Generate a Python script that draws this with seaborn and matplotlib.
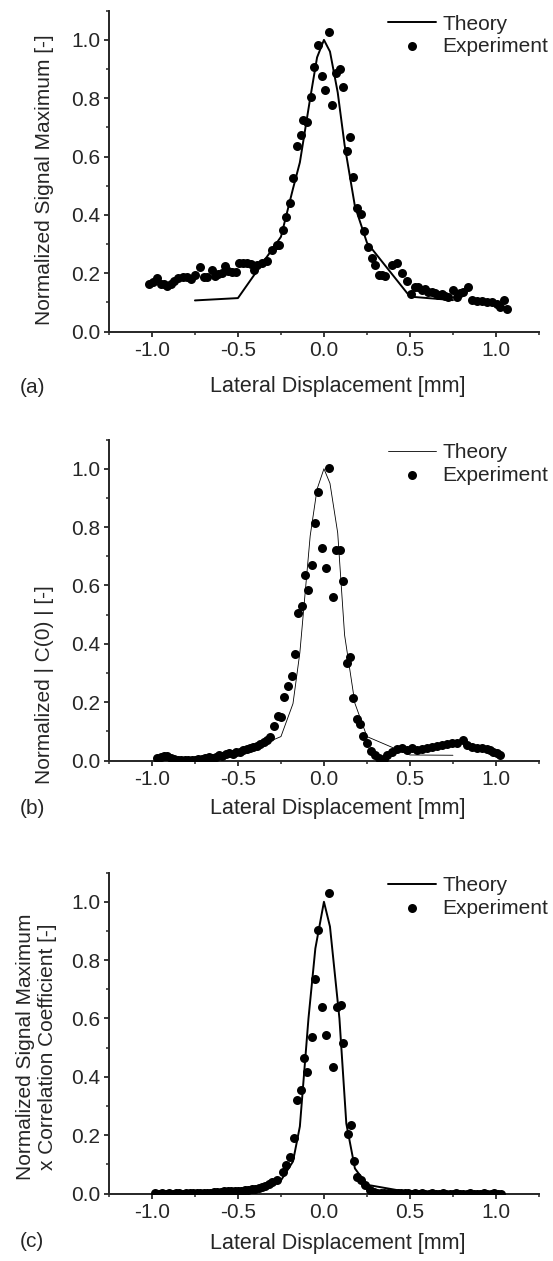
import pandas as pd
import seaborn as sns
import matplotlib.pyplot as plt
import matplotlib.ticker as ticker

# ---- panel (a): normalized signal maximum
a_exp_x = [-1.016, -0.992, -0.969, -0.950, -0.930, -0.911, -0.892, -0.872, -0.847, -0.822,
           -0.795, -0.775, -0.750, -0.721, -0.698, -0.678, -0.653, -0.634, -0.614, -0.595,
           -0.576, -0.556, -0.537, -0.512, -0.492, -0.469, -0.446, -0.426, -0.407, -0.388,
           -0.362, -0.333, -0.304, -0.275, -0.260, -0.240, -0.223, -0.198, -0.178, -0.159,
           -0.136, -0.120, -0.101, -0.078, -0.058, -0.033, -0.014, 0.006, 0.031, 0.048,
           0.070, 0.093, 0.112, 0.132, 0.151, 0.171, 0.194, 0.213, 0.234, 0.258,
           0.277, 0.297, 0.320, 0.335, 0.355, 0.394, 0.423, 0.452, 0.481, 0.504,
           0.529, 0.549, 0.568, 0.587, 0.607, 0.626, 0.645, 0.665, 0.684, 0.704,
           0.723, 0.752, 0.771, 0.791, 0.810, 0.839, 0.859, 0.888, 0.917, 0.946,
           0.975, 1.004, 1.023, 1.047, 1.066]
a_exp_y = [0.163, 0.171, 0.183, 0.165, 0.163, 0.156, 0.165, 0.175, 0.183, 0.186,
           0.186, 0.179, 0.194, 0.220, 0.188, 0.186, 0.213, 0.190, 0.197, 0.201,
           0.226, 0.209, 0.205, 0.205, 0.236, 0.236, 0.234, 0.232, 0.213, 0.228,
           0.236, 0.243, 0.280, 0.297, 0.297, 0.348, 0.392, 0.440, 0.525, 0.637,
           0.674, 0.725, 0.717, 0.803, 0.906, 0.983, 0.876, 0.828, 1.028, 0.777,
           0.888, 0.899, 0.840, 0.619, 0.668, 0.531, 0.423, 0.403, 0.346, 0.291,
           0.251, 0.228, 0.194, 0.194, 0.190, 0.228, 0.234, 0.200, 0.172, 0.129,
           0.152, 0.152, 0.143, 0.145, 0.137, 0.137, 0.131, 0.125, 0.129, 0.122,
           0.120, 0.143, 0.120, 0.131, 0.137, 0.152, 0.108, 0.106, 0.106, 0.103,
           0.103, 0.095, 0.085, 0.108, 0.076]
a_theo_x = [-0.75, -0.5, -0.25, -0.18, -0.14, -0.08, -0.04, 0.0, 0.035, 0.08, 0.12, 0.18, 0.25, 0.5, 0.75]
a_theo_y = [0.107, 0.115, 0.325, 0.49, 0.58, 0.80, 0.94, 1.0, 0.96, 0.82, 0.64, 0.43, 0.305, 0.12, 0.108]

# ---- panel (b): normalized |C(0)|
b_exp_x = [-0.97, -0.95, -0.93, -0.91, -0.89, -0.87, -0.85, -0.83, -0.81, -0.79,
           -0.77, -0.75, -0.73, -0.71, -0.69, -0.67, -0.65, -0.63, -0.61, -0.59,
           -0.57, -0.55, -0.53, -0.51, -0.49, -0.47, -0.45, -0.43, -0.41, -0.39,
           -0.37, -0.35, -0.33, -0.314, -0.291, -0.269, -0.250, -0.231, -0.209, -0.188,
           -0.169, -0.149, -0.130, -0.110, -0.091, -0.072, -0.052, -0.033, -0.010, 0.010,
           0.031, 0.050, 0.070, 0.093, 0.112, 0.132, 0.151, 0.171, 0.190, 0.209,
           0.229, 0.248, 0.271, 0.297, 0.322, 0.349, 0.368, 0.393, 0.422, 0.452,
           0.481, 0.510, 0.539, 0.568, 0.597, 0.626, 0.655, 0.684, 0.713, 0.742,
           0.775, 0.806, 0.829, 0.858, 0.888, 0.917, 0.946, 0.966, 0.985, 1.005,
           1.025]
b_exp_y = [0.008, 0.012, 0.014, 0.015, 0.010, 0.006, 0.003, 0.002, 0.002, 0.002,
           0.003, 0.003, 0.004, 0.006, 0.008, 0.012, 0.008, 0.011, 0.018, 0.015,
           0.022, 0.025, 0.022, 0.030, 0.028, 0.035, 0.040, 0.042, 0.045, 0.050,
           0.058, 0.065, 0.072, 0.082, 0.118, 0.153, 0.148, 0.217, 0.257, 0.291,
           0.365, 0.505, 0.530, 0.636, 0.585, 0.670, 0.813, 0.922, 0.730, 0.659,
           1.002, 0.559, 0.722, 0.722, 0.615, 0.333, 0.356, 0.213, 0.141, 0.125,
           0.084, 0.059, 0.034, 0.019, 0.007, 0.004, 0.019, 0.030, 0.039, 0.042,
           0.036, 0.042, 0.036, 0.039, 0.042, 0.047, 0.049, 0.053, 0.056, 0.059,
           0.061, 0.070, 0.053, 0.047, 0.043, 0.042, 0.039, 0.035, 0.030, 0.025,
           0.018]
b_theo_x = [-0.75, -0.5, -0.25, -0.18, -0.14, -0.08, -0.04, 0.0, 0.035, 0.08, 0.12, 0.18, 0.25, 0.5, 0.75]
b_theo_y = [0.005, 0.02, 0.082, 0.195, 0.37, 0.77, 0.93, 1.0, 0.95, 0.78, 0.43, 0.196, 0.082, 0.019, 0.018]

# ---- panel (c): signal maximum x correlation coefficient
c_exp_x = [-0.98, -0.96, -0.94, -0.92, -0.90, -0.88, -0.86, -0.84, -0.82, -0.80,
           -0.78, -0.76, -0.74, -0.72, -0.70, -0.68, -0.66, -0.64, -0.62, -0.60,
           -0.58, -0.56, -0.54, -0.52, -0.50, -0.48, -0.46, -0.44, -0.42, -0.40,
           -0.38, -0.36, -0.34, -0.32, -0.304, -0.275, -0.240, -0.221, -0.198, -0.174,
           -0.159, -0.136, -0.116, -0.097, -0.072, -0.052, -0.033, -0.014, 0.010, 0.031,
           0.050, 0.074, 0.097, 0.112, 0.138, 0.155, 0.174, 0.194, 0.213, 0.238,
           0.267, 0.290, 0.306, 0.33, 0.35, 0.37, 0.39, 0.41, 0.43, 0.45,
           0.47, 0.49, 0.51, 0.53, 0.55, 0.57, 0.59, 0.61, 0.63, 0.65,
           0.67, 0.69, 0.71, 0.73, 0.75, 0.77, 0.79, 0.81, 0.83, 0.85,
           0.87, 0.89, 0.91, 0.93, 0.95, 0.97, 0.99, 1.01, 1.03]
c_exp_y = [0.001, 0.000, 0.001, 0.000, 0.001, 0.000, 0.001, 0.001, 0.000, 0.001,
           0.001, 0.002, 0.001, 0.002, 0.002, 0.003, 0.003, 0.004, 0.005, 0.006,
           0.007, 0.007, 0.008, 0.009, 0.010, 0.010, 0.011, 0.012, 0.014, 0.016,
           0.018, 0.022, 0.027, 0.033, 0.041, 0.046, 0.075, 0.098, 0.126, 0.189,
           0.321, 0.355, 0.463, 0.418, 0.538, 0.735, 0.903, 0.638, 0.543, 1.029,
           0.435, 0.640, 0.646, 0.515, 0.204, 0.235, 0.113, 0.058, 0.046, 0.029,
           0.012, 0.006, 0.003, 0.002, 0.002, 0.002, 0.001, 0.001, 0.001, 0.001,
           0.001, 0.001, 0.000, 0.001, 0.000, 0.001, 0.000, 0.000, 0.001, 0.000,
           0.000, 0.001, 0.000, 0.000, 0.000, 0.001, 0.000, 0.000, 0.000, 0.001,
           0.000, 0.000, 0.000, 0.001, 0.000, 0.000, 0.001, 0.000, 0.000]
c_theo_x = [-0.75, -0.5, -0.25, -0.18, -0.14, -0.09, -0.05, 0.0, 0.035, 0.09, 0.13, 0.18, 0.25, 0.5, 0.75]
c_theo_y = [0.0, 0.005, 0.045, 0.11, 0.23, 0.6, 0.84, 1.0, 0.915, 0.6, 0.24, 0.086, 0.03, 0.004, 0.0]

x_ticks = [-1.0, -0.5, 0.0, 0.5, 1.0]
y_ticks = [0.0, 0.2, 0.4, 0.6, 0.8, 1.0]

sns.set_style("ticks")
plt.rcParams['font.family'] = ['Liberation Sans', 'DejaVu Sans']
plt.rcParams['axes.unicode_minus'] = False

fig = plt.figure(figsize=(5.53, 12.61), dpi=100)

panels = [
    # tag, exp x/y, theory x/y, line width, y label, axes bottom, ylabel pos, xlabel y, tag y
    ("(a)", a_exp_x, a_exp_y, a_theo_x, a_theo_y, 1.4, "Normalized Signal Maximum [-]",
     0.7370, (-0.151, 0.472), -0.172, 0.693),
    ("(b)", b_exp_x, b_exp_y, b_theo_x, b_theo_y, 0.6, "Normalized | C(0) | [-]",
     0.3969, (-0.151, 0.237), -0.151, 0.359),
    ("(c)", c_exp_x, c_exp_y, c_theo_x, c_theo_y, 1.4,
     "Normalized Signal Maximum\nx Correlation Coefficient [-]",
     0.0535, (-0.168, 0.457), -0.155, 0.0153),
]

for tag, ex, ey, tx, ty, lw, ylab, bottom, ylab_pos, xlab_y, tag_y in panels:
    ax = fig.add_axes([0.197, bottom, 0.7776, 0.2545])
    theo_df = pd.DataFrame({"x": tx, "y": ty})
    exp_df = pd.DataFrame({"x": ex, "y": ey})
    sns.lineplot(data=theo_df, x="x", y="y", ax=ax, color="black", linewidth=lw,
                 sort=False, estimator=None, label="Theory")
    sns.scatterplot(data=exp_df, x="x", y="y", ax=ax, color="black", s=42,
                    linewidth=0, label="Experiment", zorder=3)

    ax.set_xlim(-1.25, 1.25)
    ax.set_ylim(0, 1.1)
    ax.set_xticks(x_ticks)
    ax.set_yticks(y_ticks)
    ax.xaxis.set_minor_locator(ticker.MultipleLocator(0.25))
    ax.yaxis.set_minor_locator(ticker.MultipleLocator(0.1))
    ax.xaxis.set_major_formatter(ticker.FormatStrFormatter("%.1f"))
    ax.yaxis.set_major_formatter(ticker.FormatStrFormatter("%.1f"))
    sns.despine(ax=ax)
    for s in ["left", "bottom"]:
        ax.spines[s].set_linewidth(1.4)
    ax.tick_params(which="major", length=3.6, width=1.3, labelsize=15, direction="out")
    ax.tick_params(which="minor", length=2.2, width=1.1, direction="out")
    ax.tick_params(axis="y", pad=2.5)
    ax.tick_params(axis="x", pad=3)

    ax.set_xlabel("Lateral Displacement [mm]", fontsize=15.5)
    ax.xaxis.set_label_coords(0.532, xlab_y)
    ax.xaxis.label.set_va("center")
    ax.set_ylabel(ylab, fontsize=15, linespacing=1.2)
    ax.yaxis.set_label_coords(*ylab_pos)
    ax.yaxis.label.set_va("center")

    ax.legend(loc="center left", bbox_to_anchor=(0.649, 0.924), frameon=False,
              fontsize=15, borderpad=0, borderaxespad=0, handlelength=2.3,
              handletextpad=0.3, labelspacing=0.15, markerscale=1.0)

    fig.text(0.035, tag_y, tag, fontsize=15, va="center", ha="left")

fig.savefig("out.png", dpi=100)
plt.close()
